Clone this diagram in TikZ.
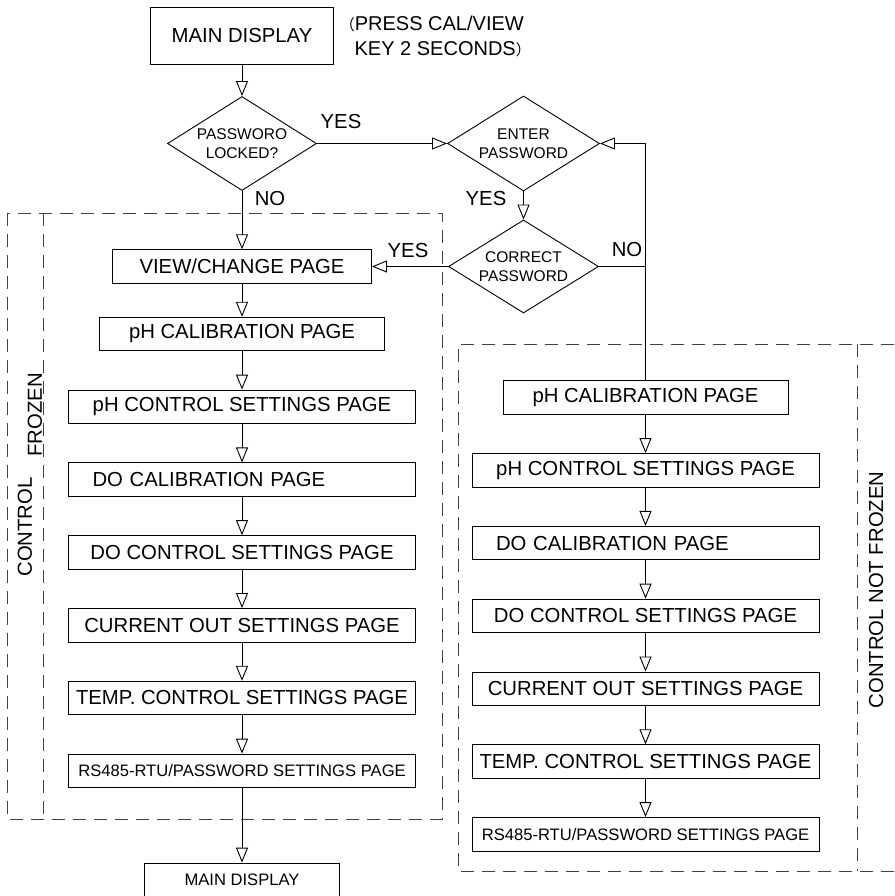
\documentclass[tikz,border=0pt]{standalone}
\usepackage{fontspec}
\setmainfont{Liberation Sans}
\newfontfamily\cjk{Noto Sans CJK SC}
\usetikzlibrary{positioning,arrows.meta,shapes.geometric}
\newcommand\boxfont{\fontsize{20.3pt}{24pt}\selectfont}
\newcommand\smallfont{\fontsize{16.6pt}{19pt}\selectfont}
\newcommand\diafont{\fontsize{15.5pt}{19pt}\selectfont}
\newcommand\notefont{\fontsize{20pt}{25pt}\selectfont}
\newcommand\paren[1]{{\cjk\fontsize{15pt}{15pt}\selectfont #1}}
\tikzset{
    every node/.style={font=\boxfont},
    pagebox/.style={draw,line width=0.9pt,minimum width=347pt,minimum height=33.5pt,inner sep=0pt},
    leftpage/.style={pagebox,text width=299pt,align=left,inner xsep=24pt},
    mainbox/.style={draw,line width=0.9pt,inner sep=0pt},
    decision/.style={diamond,draw,line width=0.9pt,aspect=1.6,inner sep=0pt,align=center,font=\diafont},
    zone/.style={line width=0.9pt,dash pattern=on 13pt off 8pt,black!75},
    sidelabel/.style={rotate=90,inner sep=0pt},
    answer/.style={inner sep=0pt},
    wire/.style={line width=0.9pt},
    flow/.style={wire,-{Triangle[open,length=15pt,width=12pt]}}
}

\begin{document}
\begin{tikzpicture}[x=1pt,y=-1pt,node distance=38.4pt]
    \useasboundingbox (0,0) rectangle (894,896);
    % dashed areas
    \draw[zone] (7,213) rectangle (442,819);
    \draw[zone] (43,213) -- (43,819);
    \draw[zone] (894,344) -- (458,344) -- (458,871) -- (894,871);
    \draw[zone] (857,344) -- (857,871);
    \node[sidelabel] (ctrl) at (25,527) {CONTROL};
    \node[sidelabel] (frozen) at (35,415) {FROZEN};
    \node[sidelabel] (notfrozen) at (876,590) {CONTROL NOT FROZEN};

    % start and password check
    \node[mainbox,minimum width=183pt,minimum height=57pt] (main) at (242,35.5) {MAIN DISPLAY};
    \node[anchor=north east,inner sep=0pt,align=right,font=\notefont] (note) at (524,16)
        {\paren{（}PRESS CAL/VIEW\\KEY 2 SECONDS\paren{）}\kern-7pt};
    \node[decision,minimum width=149pt,minimum height=94pt] (locked) at (242,143.5) {PASSWORO\\LOCKED?};
    \node[decision,minimum width=152pt,minimum height=95pt] (enter) at (523.5,143.5) {ENTER\\PASSWORD};
    \node[decision,minimum width=150pt,minimum height=93pt] (correct) at (523.5,266.5) {CORRECT\\PASSWORD};

    % frozen pages
    \node[pagebox,minimum width=259pt] (view) at (242,266.5) {VIEW/CHANGE PAGE};
    \node[pagebox,minimum width=285pt,below=33.1pt of view] (lcal) {pH CALIBRATION PAGE};
    \node[pagebox,below=of lcal] (lctl) {pH CONTROL SETTINGS PAGE};
    \node[leftpage,below=of lctl] (ldocal) {DO CALIBRATION PAGE};
    \node[pagebox,below=of ldocal] (ldoctl) {DO CONTROL SETTINGS PAGE};
    \node[pagebox,below=of ldoctl] (lcur) {CURRENT OUT SETTINGS PAGE};
    \node[pagebox,below=of lcur] (ltemp) {TEMP. CONTROL SETTINGS PAGE};
    \node[pagebox,font=\smallfont,below=of ltemp] (lrs) {RS485-RTU/PASSWORD SETTINGS PAGE};
    \node[mainbox,minimum width=195pt,minimum height=34pt,font=\smallfont,below=74.6pt of lrs] (mainend) {MAIN DISPLAY};

    % not frozen pages
    \node[pagebox,minimum width=285pt] (rcal) at (645.5,397.5) {pH CALIBRATION PAGE};
    \node[pagebox,below=of rcal] (rctl) {pH CONTROL SETTINGS PAGE};
    \node[leftpage,below=of rctl] (rdocal) {DO CALIBRATION PAGE};
    \node[pagebox,below=of rdocal] (rdoctl) {DO CONTROL SETTINGS PAGE};
    \node[pagebox,below=of rdoctl] (rcur) {CURRENT OUT SETTINGS PAGE};
    \node[pagebox,below=of rcur] (rtemp) {TEMP. CONTROL SETTINGS PAGE};
    \node[pagebox,font=\smallfont,below=of rtemp] (rrs) {RS485-RTU/PASSWORD SETTINGS PAGE};

    % answers
    \node[answer] (yeslock) at (341,122) {YES};
    \node[answer] (nolock) at (270,199) {NO};
    \node[answer] (yesenter) at (486,199) {YES};
    \node[answer] (yescorrect) at (408,251) {YES};
    \node[answer] (nocorrect) at (627,250) {NO};

    \draw[flow] (main) -- (locked);
    \draw[flow] (locked) -- (enter);
    \draw[flow] (locked) -- (view);
    \draw[flow] (enter) -- (correct);
    \draw[flow] (correct) -- (view);
    \coordinate (nojoin) at (correct.east -| rcal.north);
    \draw[wire] (correct.east) -- (nojoin);
    \draw[flow] (rcal.north) |- (enter.east);

    \draw[flow] (view) -- (lcal);
    \draw[flow] (lcal) -- (lctl);
    \draw[flow] (lctl) -- (ldocal);
    \draw[flow] (ldocal) -- (ldoctl);
    \draw[flow] (ldoctl) -- (lcur);
    \draw[flow] (lcur) -- (ltemp);
    \draw[flow] (ltemp) -- (lrs);
    \draw[flow] (lrs) -- (mainend);

    \draw[flow] (rcal) -- (rctl);
    \draw[flow] (rctl) -- (rdocal);
    \draw[flow] (rdocal) -- (rdoctl);
    \draw[flow] (rdoctl) -- (rcur);
    \draw[flow] (rcur) -- (rtemp);
    \draw[flow] (rtemp) -- (rrs);
\end{tikzpicture}
\end{document}
